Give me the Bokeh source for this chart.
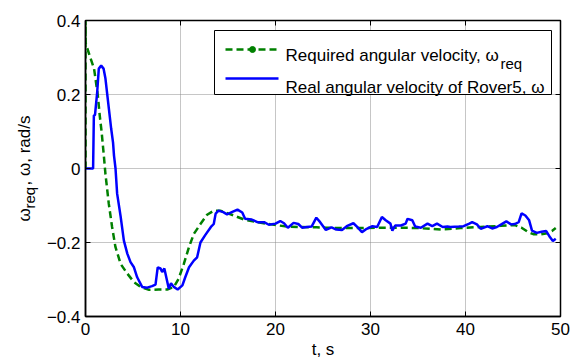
import math
from bokeh.plotting import figure
from bokeh.layouts import row
from bokeh.models import (Range1d, LinearAxis, FixedTicker, Label, BoxAnnotation, Arrow)
from bokeh.embed import file_html
from bokeh.resources import INLINE

# ---- data ----
t_req = [0, 0, 0.02, 0.5, 0.9, 1.05, 1.3, 1.5, 1.7, 1.93, 2.1, 2.45, 2.8, 3.15, 3.7, 4.4,
         5.1, 5.8, 6.7, 7.7, 8.6, 9.3, 9.8, 10.35, 10.9, 11.4, 12.1, 12.8, 13.5, 14.2,
         15.6, 16.7, 18.1, 19.5, 21.2, 22.6, 24.3, 25.3, 27, 29, 31, 33, 35, 37.4, 39.5,
         41.6, 43.7, 45.2, 45.9, 46.6, 47.2, 47.9, 48.6, 49.1, 49.5]
w_req = [0, 0.4, 0.338, 0.30, 0.27, 0.243, 0.197, 0.143, 0.098, 0.035, -0.015, -0.095,
         -0.158, -0.212, -0.258, -0.284, -0.307, -0.32, -0.328, -0.327, -0.327, -0.32,
         -0.298, -0.258, -0.212, -0.177, -0.15, -0.125, -0.114, -0.114, -0.127, -0.138,
         -0.145, -0.151, -0.157, -0.158, -0.159, -0.16, -0.161, -0.161, -0.16, -0.16,
         -0.161, -0.165, -0.161, -0.158, -0.155, -0.153, -0.16, -0.172, -0.178, -0.178,
         -0.175, -0.169, -0.161]

t_real = [0, 0.8, 0.88, 1.0, 1.23, 1.4, 1.65, 1.9, 2.1, 2.46, 2.7, 2.9, 3.0, 3.16, 3.33,
          3.7, 4.04, 4.4, 4.74, 5.1, 5.44, 5.96, 6.5, 7.0, 7.37, 7.6, 7.9, 8.07, 8.3, 8.77,
          9.0, 9.3, 9.7, 10.2, 10.5, 10.9, 11.4, 11.75, 12.1, 12.6, 13.2, 13.5, 13.7, 14.0,
          14.5, 14.9, 15.4, 16.0, 16.5, 16.8, 17.5, 18.1, 18.8, 19.3, 20.0, 20.5, 20.9,
          21.3, 21.9, 22.4, 22.8, 23.3, 23.8, 24.3, 24.7, 25.3, 25.9, 26.4, 27.0, 27.5,
          28.2, 28.6, 29.1, 29.6, 30.2, 30.7, 31.2, 31.6, 32.1, 32.3, 32.6, 33.2, 33.7,
          33.9, 34.4, 34.7, 35.3, 36.0, 36.5, 37.0, 37.6, 38.1, 38.4, 39.3, 39.8, 40.4,
          40.7, 41.2, 41.6, 42.3, 42.8, 43.3, 43.9, 44.3, 44.8, 45.2, 45.6, 45.9, 46.3,
          46.7, 47.0, 47.5, 48.0, 48.5, 48.9, 49.2, 49.5]
w_real = [0, 0, 0.143, 0.145, 0.206, 0.27, 0.278, 0.27, 0.243, 0.162, 0.108, 0.07, 0.035,
          0.0, -0.068, -0.13, -0.195, -0.23, -0.253, -0.267, -0.294, -0.32, -0.322,
          -0.318, -0.314, -0.267, -0.27, -0.28, -0.27, -0.325, -0.31, -0.32, -0.327,
          -0.316, -0.294, -0.267, -0.249, -0.24, -0.2, -0.18, -0.158, -0.15, -0.122,
          -0.114, -0.118, -0.124, -0.118, -0.111, -0.119, -0.136, -0.138, -0.145, -0.145,
          -0.152, -0.149, -0.142, -0.148, -0.16, -0.147, -0.15, -0.16, -0.158, -0.157,
          -0.133, -0.145, -0.166, -0.159, -0.165, -0.166, -0.156, -0.148, -0.158, -0.172,
          -0.163, -0.156, -0.158, -0.131, -0.14, -0.149, -0.168, -0.154, -0.154, -0.149,
          -0.136, -0.14, -0.157, -0.16, -0.149, -0.156, -0.149, -0.158, -0.157, -0.158,
          -0.157, -0.156, -0.149, -0.145, -0.151, -0.163, -0.156, -0.162, -0.158, -0.149,
          -0.143, -0.151, -0.15, -0.145, -0.121, -0.127, -0.14, -0.168, -0.174, -0.171,
          -0.169, -0.186, -0.196, -0.19]

x_ticks = [0, 10, 20, 30, 40, 50]
y_ticks = [-0.4, -0.2, 0, 0.2, 0.4]
label_req = "Required angular velocity, \u03c9"
label_real = "Real angular velocity of Rover5, \u03c9"
sub_req = "req"
x_title = "t, s"
y_title_main = "\u03c9"
y_title_rest = ", \u03c9, rad/s"

FONT = "Liberation Sans"
GREEN = "#008000"
BLUE = "#0000ff"
LW = 40  # width of the strip holding the y-axis title

# ---------- main plot ----------
p = figure(width=576 - LW, height=363, output_backend="svg", toolbar_location=None,
           x_range=Range1d(0, 50), y_range=Range1d(-0.4, 0.4),
           min_border_left=85 - LW, min_border_right=16, min_border_top=20,
           min_border_bottom=47)
p.background_fill_color = "white"
p.border_fill_color = "white"
p.outline_line_color = "black"
p.outline_line_width = 1.5

for ax in (p.xaxis[0], p.yaxis[0]):
    ax.major_tick_in = 5
    ax.major_tick_out = 0
    ax.minor_tick_line_color = None
    ax.axis_line_color = "black"
    ax.axis_line_width = 1.5
    ax.major_tick_line_color = "black"
    ax.major_label_text_font = FONT
    ax.major_label_text_font_size = "17px"
    ax.major_label_text_color = "black"
p.xaxis[0].ticker = FixedTicker(ticks=x_ticks)
p.yaxis[0].ticker = FixedTicker(ticks=y_ticks)
p.yaxis[0].major_label_overrides = {0: "0"}
p.xaxis[0].major_label_standoff = 6
p.yaxis[0].major_label_standoff = 5
p.xaxis[0].axis_label = x_title
p.xaxis[0].axis_label_text_font = FONT
p.xaxis[0].axis_label_text_font_size = "17px"
p.xaxis[0].axis_label_text_font_style = "normal"
p.xaxis[0].axis_label_text_color = "black"
p.xaxis[0].axis_label_standoff = 2

# mirror ticks on top and right
for loc, ticks in (("right", y_ticks), ("above", x_ticks)):
    ax = LinearAxis(ticker=FixedTicker(ticks=ticks), major_tick_in=5, major_tick_out=0,
                    minor_tick_line_color=None, axis_line_color="black",
                    major_label_text_font_size="0px", major_label_standoff=0)
    p.add_layout(ax, loc)

p.xgrid[0].ticker = FixedTicker(ticks=x_ticks)
p.ygrid[0].ticker = FixedTicker(ticks=y_ticks)
for g in (p.xgrid[0], p.ygrid[0]):
    g.grid_line_color = "#8c8c8c"
    g.grid_line_dash = "1 1"
    g.grid_line_width = 1

p.line(t_req, w_req, line_color=GREEN, line_width=2.5, line_dash="7 4")
p.line(t_real, w_real, line_color=BLUE, line_width=2.5)

# ---------- legend (screen units, relative to the plot frame) ----------
p.add_layout(BoxAnnotation(left=129, right=466, bottom=222, top=286,
                           left_units="screen", right_units="screen",
                           bottom_units="screen", top_units="screen",
                           fill_color="white", fill_alpha=1,
                           line_color="black", line_width=1, line_alpha=1))
p.add_layout(Arrow(end=None, x_start=140, y_start=267, x_end=193, y_end=267,
                   start_units="screen", end_units="screen",
                   line_color=GREEN, line_width=2.5, line_dash="7 4"))
p.add_layout(BoxAnnotation(left=164, right=170, bottom=264, top=270,
                           left_units="screen", right_units="screen",
                           bottom_units="screen", top_units="screen",
                           fill_color=GREEN, fill_alpha=1, line_color=GREEN,
                           line_alpha=1, border_radius=3))
p.add_layout(Arrow(end=None, x_start=140, y_start=238, x_end=193, y_end=238,
                   start_units="screen", end_units="screen",
                   line_color=BLUE, line_width=2.5))
p.add_layout(Label(x=200, y=261, x_units="screen", y_units="screen", text=label_req,
                   text_font=FONT, text_font_size="17px", text_color="black",
                   text_baseline="alphabetic"))
p.add_layout(Label(x=415, y=253, x_units="screen", y_units="screen", text=sub_req,
                   text_font=FONT, text_font_size="15px", text_color="black",
                   text_baseline="alphabetic"))
p.add_layout(Label(x=200, y=229, x_units="screen", y_units="screen", text=label_real,
                   text_font=FONT, text_font_size="17px", text_color="black",
                   text_baseline="alphabetic"))

# ---------- strip holding the rotated y-axis title ----------
lab = figure(width=LW, height=363, output_backend="svg", toolbar_location=None,
             x_axis_type=None, y_axis_type=None, min_border=0,
             x_range=Range1d(0, 1), y_range=Range1d(0, 1))
lab.outline_line_color = None
lab.grid.visible = False
ang = math.pi / 2
lab.add_layout(Label(x=24, y=95, x_units="screen", y_units="screen", text=y_title_main,
                     angle=ang, text_font=FONT, text_font_size="17px", text_color="black",
                     text_baseline="alphabetic", text_align="left"))
lab.add_layout(Label(x=29, y=108, x_units="screen", y_units="screen", text=sub_req,
                     angle=ang, text_font=FONT, text_font_size="15px", text_color="black",
                     text_baseline="alphabetic", text_align="left"))
lab.add_layout(Label(x=24, y=131, x_units="screen", y_units="screen", text=y_title_rest,
                     angle=ang, text_font=FONT, text_font_size="17px", text_color="black",
                     text_baseline="alphabetic", text_align="left"))

layout = row(lab, p, spacing=0)
open("out.html", "w").write(file_html(layout, INLINE))
